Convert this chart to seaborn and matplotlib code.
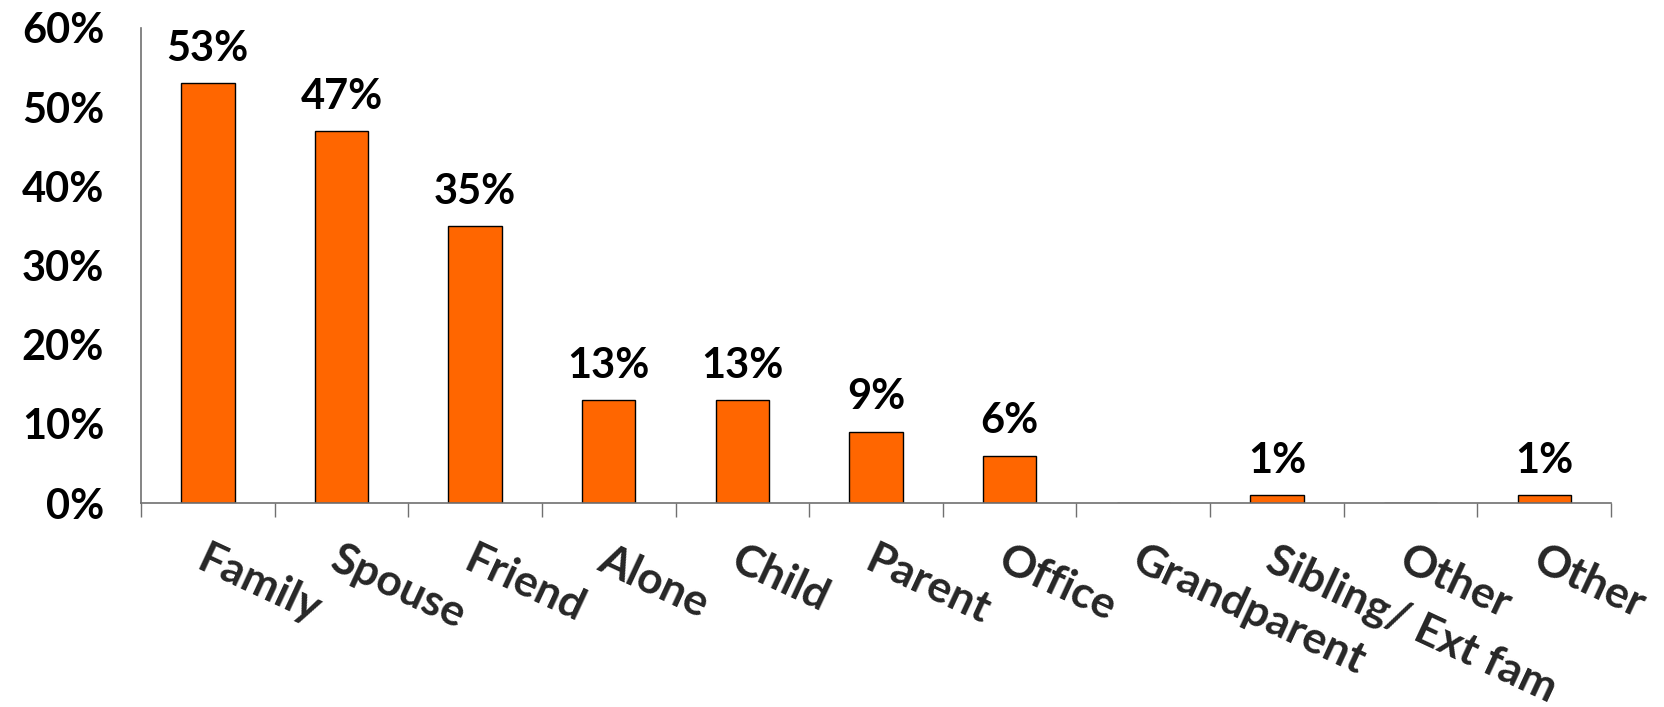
import matplotlib
matplotlib.use("Agg")
import matplotlib.pyplot as plt
import seaborn as sns
from matplotlib.ticker import FixedLocator, FuncFormatter

categories = ["Family", "Spouse", "Friend", "Alone", "Child", "Parent",
              "Office", "Grandparent", "Sibling/ Ext fam", "Other", "Other"]
values = [53, 47, 35, 13, 13, 9, 6, 0, 1, 0, 1]
y_ticks = [0, 10, 20, 30, 40, 50, 60]

sns.set_theme(style="white")
plt.rcParams["font.family"] = ["Lato", "DejaVu Sans"]
plt.rcParams["font.weight"] = "bold"

fig = plt.figure(figsize=(16.65, 7.07), dpi=100)
ax = fig.add_axes([0.0847, 0.2885, 0.8829, 0.6719])

positions = list(range(len(categories)))
sns.barplot(x=positions, y=values, color="#FF6600", saturation=1,
            edgecolor="black", linewidth=1.0, width=0.40, ax=ax)

ax.set_xlim(-0.5, len(categories) - 0.5)
ax.set_ylim(0, 60)

# value labels above the bars
for pos, val in zip(positions, values):
    if val > 0:
        ax.annotate(f"{val}%", (pos, val), xytext=(0, 11),
                    textcoords="offset points", ha="center", va="bottom",
                    fontsize=30, fontweight="bold", color="black")

# y axis
ax.yaxis.set_major_locator(FixedLocator(y_ticks))
ax.yaxis.set_major_formatter(FuncFormatter(lambda v, _: f"{v:.0f}%"))
ax.tick_params(axis="y", which="major", direction="out", length=9.5,
               width=1, color="#707070", pad=17, labelsize=30, labelcolor="black")

# x axis: tick marks between categories, labels at category centers
ax.set_xticks(positions)
ax.set_xticklabels(categories, rotation=-25, ha="left", va="top",
                   rotation_mode="anchor", fontsize=32, fontweight="bold")
ax.tick_params(axis="x", which="major", length=0, pad=26)
ax.xaxis.set_minor_locator(FixedLocator([p - 0.5 for p in positions] + [len(categories) - 0.5]))
ax.tick_params(axis="x", which="minor", direction="out", length=10,
               width=1, color="#707070", bottom=True)

for side in ("top", "right"):
    ax.spines[side].set_visible(False)
for side in ("left", "bottom"):
    ax.spines[side].set_color("#707070")
    ax.spines[side].set_linewidth(1.2)

ax.set_xlabel("")
ax.set_ylabel("")
ax.grid(False)

fig.savefig("out.png", dpi=100, facecolor="white")
